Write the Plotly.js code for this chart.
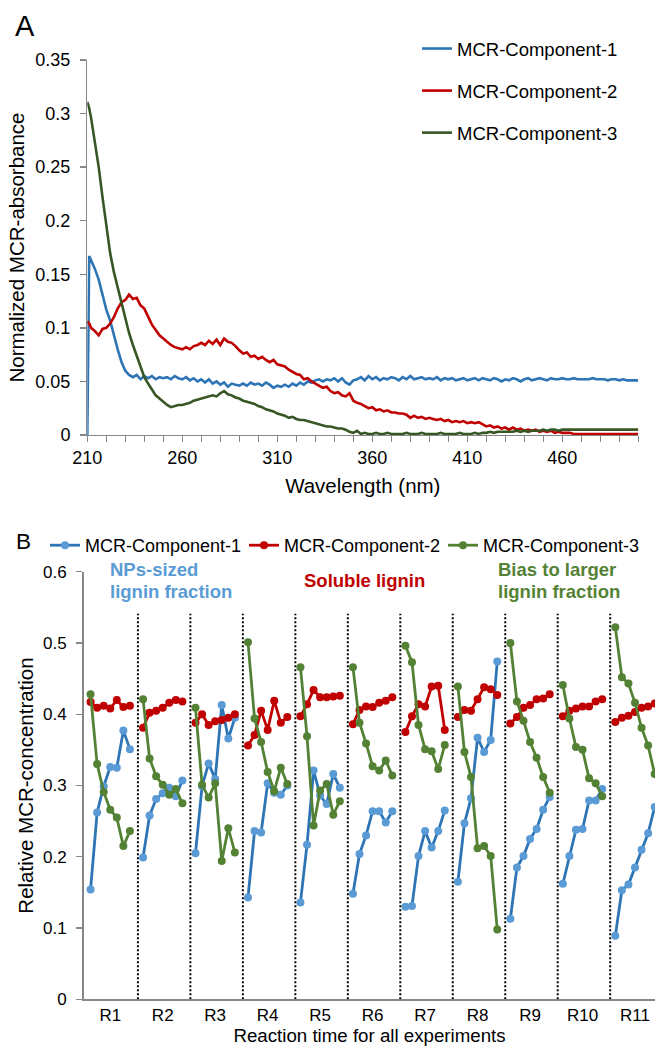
<!DOCTYPE html>
<html><head><meta charset="utf-8">
<script src="https://cdn.plot.ly/plotly-3.0.1.min.js"></script>
<style>html,body{margin:0;padding:0;background:#fff}#chart{width:657px;height:1046px}</style>
</head><body><div id="chart"></div>
<script>
// ---------- Panel A: MCR spectra ----------
const wavelength = [210, 211,
212,214,216,218,220,222,224,226,228,230,
232,234,236,238,240,242,244,246,248,250,
252,254,256,258,260,262,264,266,268,270,
272,274,276,278,280,282,284,286,288,290,
292,294,296,298,300,302,304,306,308,310,
312,314,316,318,320,322,324,326,328,330,
332,334,336,338,340,342,344,346,348,350,
352,354,356,358,360,362,364,366,368,370,
372,374,376,378,380,382,384,386,388,390,
392,394,396,398,400,402,404,406,408,410,
412,414,416,418,420,422,424,426,428,430,
432,434,436,438,440,442,444,446,448,450,
452,454,456,458,460,462,464,466,468,470,
472,474,476,478,480,482,484,486,488,490,
492,494,496,498,500];

const absComp1 = [0, 0.167,
0.163,0.155,0.145,0.130,0.117,0.107,0.093,0.080,0.068,0.060,
0.056,0.054,0.056,0.052,0.055,0.053,0.055,0.052,0.054,0.053,
0.054,0.052,0.055,0.053,0.052,0.054,0.051,0.053,0.050,0.052,
0.049,0.052,0.048,0.050,0.047,0.049,0.045,0.048,0.047,0.046,
0.048,0.046,0.049,0.047,0.048,0.046,0.049,0.047,0.044,0.046,
0.045,0.047,0.045,0.048,0.046,0.049,0.047,0.050,0.049,0.051,
0.052,0.050,0.052,0.051,0.053,0.050,0.053,0.049,0.047,0.051,
0.052,0.054,0.051,0.055,0.052,0.054,0.051,0.053,0.052,0.054,
0.053,0.051,0.054,0.052,0.055,0.052,0.053,0.054,0.052,0.053,
0.052,0.054,0.051,0.053,0.052,0.053,0.051,0.052,0.053,0.051,
0.052,0.053,0.051,0.053,0.052,0.051,0.053,0.052,0.050,0.052,
0.051,0.053,0.052,0.050,0.052,0.053,0.051,0.052,0.053,0.052,
0.051,0.053,0.052,0.052,0.053,0.052,0.052,0.053,0.052,0.052,
0.052,0.052,0.053,0.052,0.052,0.052,0.051,0.052,0.052,0.051,
0.052,0.051,0.051,0.051,0.051];

const absComp2 = [0.106, 0.104,
0.100,0.097,0.093,0.099,0.100,0.104,0.110,0.118,0.124,0.126,
0.131,0.127,0.128,0.121,0.118,0.110,0.103,0.098,0.093,0.090,
0.087,0.084,0.082,0.081,0.080,0.082,0.080,0.083,0.084,0.086,
0.084,0.088,0.085,0.089,0.084,0.090,0.087,0.086,0.083,0.079,
0.076,0.077,0.073,0.074,0.071,0.073,0.070,0.068,0.070,0.066,
0.065,0.064,0.061,0.059,0.057,0.056,0.052,0.053,0.050,0.048,
0.046,0.044,0.045,0.041,0.039,0.040,0.037,0.036,0.039,0.032,
0.030,0.029,0.027,0.025,0.026,0.023,0.024,0.022,0.023,0.021,
0.021,0.020,0.020,0.019,0.016,0.018,0.016,0.017,0.015,0.016,
0.015,0.014,0.015,0.013,0.014,0.012,0.013,0.012,0.013,0.011,
0.012,0.011,0.012,0.010,0.008,0.009,0.007,0.008,0.006,0.007,
0.005,0.007,0.005,0.006,0.004,0.005,0.004,0.005,0.003,0.004,
0.003,0.004,0.002,0.003,0.002,0.002,0.002,0.001,0.001,0.001,
0.001,0.001,0.001,0.001,0.001,0.001,0.001,0.001,0.001,0.001,
0.001,0.001,0.001,0.001,0.001];

const absComp3 = [0.311, 0.305,
0.296,0.275,0.250,0.222,0.196,0.170,0.152,0.138,0.123,0.108,
0.095,0.084,0.074,0.063,0.054,0.048,0.042,0.037,0.034,0.031,
0.028,0.026,0.027,0.028,0.028,0.029,0.030,0.032,0.033,0.034,
0.035,0.036,0.037,0.036,0.039,0.041,0.038,0.037,0.035,0.034,
0.032,0.031,0.030,0.029,0.027,0.026,0.024,0.023,0.022,0.020,
0.019,0.018,0.016,0.017,0.015,0.014,0.014,0.013,0.012,0.011,
0.010,0.009,0.008,0.008,0.007,0.006,0.006,0.005,0.003,0.002,
0.004,0.001,0.002,0.001,0.001,0.002,0.001,0.001,0.002,0.001,
0.001,0.001,0.001,0.002,0.001,0.001,0.001,0.002,0.001,0.001,
0.001,0.001,0.002,0.001,0.001,0.001,0.001,0.002,0.001,0.001,
0.001,0.002,0.001,0.002,0.002,0.003,0.002,0.003,0.003,0.003,
0.003,0.003,0.004,0.003,0.004,0.003,0.004,0.004,0.004,0.005,
0.004,0.005,0.005,0.004,0.005,0.005,0.005,0.005,0.005,0.005,
0.005,0.005,0.005,0.005,0.005,0.005,0.005,0.005,0.005,0.005,
0.005,0.005,0.005,0.005,0.005];

// ---------- Panel B: relative concentrations (7 time points per run) ----------
const runs = ['R1','R2','R3','R4','R5','R6','R7','R8','R9','R10','R11'];
const concComp1 = [
 [0.154,0.262,0.299,0.326,0.325,0.377,0.351],
 [0.199,0.258,0.281,0.289,0.297,0.285,0.307],
 [0.205,0.299,0.331,0.309,0.413,0.366,0.395],
 [0.143,0.236,0.234,0.303,0.290,0.287,0.300],
 [0.136,0.217,0.321,0.286,0.274,0.316,0.297],
 [0.148,0.204,0.230,0.264,0.264,0.248,0.264],
 [0.130,0.131,0.201,0.236,0.213,0.236,0.265],
 [0.165,0.247,0.282,0.367,0.347,0.364,0.474],
 [0.113,0.185,0.201,0.225,0.239,0.266,0.284],
 [0.162,0.201,0.238,0.239,0.279,0.279,0.295],
 [0.089,0.153,0.161,0.185,0.210,0.233,0.270]];
const concComp2 = [
 [0.417,0.409,0.412,0.408,0.420,0.410,0.412],
 [0.381,0.402,0.405,0.409,0.416,0.420,0.418],
 [0.388,0.400,0.385,0.390,0.392,0.395,0.400],
 [0.356,0.371,0.405,0.378,0.419,0.388,0.396],
 [0.397,0.414,0.434,0.424,0.424,0.425,0.426],
 [0.386,0.406,0.411,0.410,0.416,0.419,0.424],
 [0.375,0.397,0.414,0.411,0.439,0.440,0.378],
 [0.396,0.406,0.405,0.421,0.438,0.435,0.427],
 [0.387,0.396,0.409,0.413,0.421,0.422,0.428],
 [0.397,0.405,0.408,0.411,0.411,0.418,0.421],
 [0.389,0.395,0.398,0.403,0.409,0.411,0.415]];
const concComp3 = [
 [0.428,0.330,0.291,0.266,0.255,0.215,0.236],
 [0.421,0.338,0.313,0.301,0.287,0.295,0.275],
 [0.409,0.301,0.283,0.303,0.194,0.240,0.206],
 [0.501,0.394,0.361,0.319,0.292,0.325,0.302],
 [0.466,0.369,0.244,0.293,0.302,0.259,0.278],
 [0.466,0.388,0.359,0.327,0.321,0.335,0.314],
 [0.496,0.473,0.385,0.351,0.348,0.323,0.357],
 [0.439,0.347,0.312,0.212,0.215,0.201,0.098],
 [0.500,0.418,0.391,0.361,0.339,0.312,0.290],
 [0.441,0.394,0.354,0.350,0.310,0.303,0.285],
 [0.522,0.452,0.443,0.416,0.381,0.356,0.316]];
const seriesNames = ['MCR-Component-1','MCR-Component-2','MCR-Component-3'];

// ---------- helpers / layout ----------
const W = 657, H = 1046;
const fx = px => px / W;
const fy = py => 1 - py / H;
const SLOTS = 8; // 7 points + 1 gap per run

function flatten(groups){
  const xs = [], ys = [];
  groups.forEach((grp, g) => {
    grp.forEach((v, j) => { xs.push(g*SLOTS + j + 1); ys.push(v); });
    if (g < groups.length - 1) { xs.push(null); ys.push(null); }
  });
  return {xs, ys};
}

const FONT = 'Liberation Sans, Arial, sans-serif';
const topColors = ['#2E75B6', '#C00000', '#375623'];
const traces = [];
[absComp1, absComp2, absComp3].forEach((arr, i) => {
  traces.push({x: wavelength, y: arr, type: 'scatter', mode: 'lines', name: seriesNames[i],
    line: {color: topColors[i], width: 2.6}, xaxis: 'x', yaxis: 'y', legend: 'legend',
    legendgroup: 'a' + i});
});
const botLine = ['#2E75B6', '#C00000', '#548235'];
const botMark = ['#5B9BD5', '#C00000', '#548235'];
[concComp1, concComp2, concComp3].forEach((grp, i) => {
  const f = flatten(grp);
  traces.push({x: f.xs, y: f.ys, type: 'scatter', mode: 'lines+markers', name: seriesNames[i],
    connectgaps: false, line: {color: botLine[i], width: 2.8},
    marker: {color: botMark[i], size: 8}, xaxis: 'x2', yaxis: 'y2', legend: 'legend2'});
});

const shapes = [];
for (let g = 1; g < runs.length; g++) {
  shapes.push({type: 'line', xref: 'x2', yref: 'y2', x0: g*SLOTS + 0.22, x1: g*SLOTS + 0.22,
    y0: 0, y1: 0.541, line: {color: '#000', width: 2, dash: '2px,2px'}});
}

const axisCommon = {showgrid: false, zeroline: false, showline: true, linecolor: '#868686',
  linewidth: 1.3, tickcolor: '#868686', tickwidth: 1.3, color: '#000'};

const layout = {
  width: W, height: H, margin: {l: 0, r: 0, t: 0, b: 0},
  paper_bgcolor: '#fff', plot_bgcolor: 'rgba(0,0,0,0)',
  font: {family: FONT, color: '#000'},
  xaxis: Object.assign({}, axisCommon, {domain: [fx(87.3), fx(638.3)], anchor: 'y',
    range: [210, 500], tickmode: 'linear', tick0: 210, dtick: 50, ticks: 'outside', ticklen: 6,
    tickfont: {size: 18}, minor: {tick0: 210, dtick: 10, ticks: 'outside', ticklen: 6,
      tickcolor: '#868686', tickwidth: 1.3, showgrid: false},
    title: {text: 'Wavelength (nm)', font: {size: 20.5}, standoff: 11}}),
  yaxis: Object.assign({}, axisCommon, {domain: [fy(435), fy(60)], anchor: 'x',
    range: [0, 0.35], tickmode: 'linear', tick0: 0, dtick: 0.05, ticks: 'outside', ticklen: 6,
    tickfont: {size: 18}, ticklabelstandoff: 6,
    title: {text: 'Normalized MCR-absorbance', font: {size: 20.5}, standoff: 5}}),
  xaxis2: Object.assign({}, axisCommon, {domain: [fx(84), fx(655)], anchor: 'y2',
    range: [0, 87.05], tickmode: 'array', tickvals: runs.map((r, g) => g*SLOTS + 4),
    ticktext: runs, ticks: '', tickfont: {size: 17},
    title: {text: 'Reaction time for all experiments', font: {size: 18.7}, standoff: 8}}),
  yaxis2: Object.assign({}, axisCommon, {domain: [fy(999.3), fy(571.7)], anchor: 'x2',
    range: [0, 0.6], tickmode: 'linear', tick0: 0, dtick: 0.1, ticks: 'outside', ticklen: 6,
    linewidth: 2, tickfont: {size: 17}, ticklabelstandoff: 6,
    title: {text: 'Relative MCR-concentration', font: {size: 20.5}, standoff: 4}}),
  legend: {x: fx(417), y: fy(30), xanchor: 'left', yanchor: 'top', bgcolor: 'rgba(0,0,0,0)',
    font: {size: 18.5}, tracegroupgap: 15, traceorder: 'grouped'},
  legend2: {orientation: 'h', x: fx(45), y: fy(527), xanchor: 'left', yanchor: 'top',
    bgcolor: 'rgba(0,0,0,0)', font: {size: 18}, entrywidth: 154, entrywidthmode: 'pixels'},
  shapes: shapes,
  annotations: [
    {text: 'A', xref: 'paper', yref: 'paper', x: fx(13), y: fy(26), xanchor: 'left', yanchor: 'middle',
      showarrow: false, font: {size: 29}},
    {text: 'B', xref: 'paper', yref: 'paper', x: fx(14), y: fy(541), xanchor: 'left', yanchor: 'middle',
      showarrow: false, font: {size: 22.5}},
    {text: '<b>NPs-sized</b>', xref: 'paper', yref: 'paper', x: fx(108), y: fy(569), xanchor: 'left',
      yanchor: 'middle', showarrow: false, font: {size: 18.5, color: '#5B9BD5'}},
    {text: '<b>lignin fraction</b>', xref: 'paper', yref: 'paper', x: fx(108), y: fy(591), xanchor: 'left',
      yanchor: 'middle', showarrow: false, font: {size: 18.5, color: '#5B9BD5'}},
    {text: '<b>Soluble lignin</b>', xref: 'paper', yref: 'paper', x: fx(302), y: fy(580), xanchor: 'left',
      yanchor: 'middle', showarrow: false, font: {size: 18.5, color: '#C00000'}},
    {text: '<b>Bias to larger</b>', xref: 'paper', yref: 'paper', x: fx(496), y: fy(569), xanchor: 'left',
      yanchor: 'middle', showarrow: false, font: {size: 18.5, color: '#548235'}},
    {text: '<b>lignin fraction</b>', xref: 'paper', yref: 'paper', x: fx(496), y: fy(591), xanchor: 'left',
      yanchor: 'middle', showarrow: false, font: {size: 18.5, color: '#548235'}}
  ]
};

Plotly.newPlot('chart', traces, layout, {displayModeBar: false, staticPlot: true});
</script>
</body></html>
